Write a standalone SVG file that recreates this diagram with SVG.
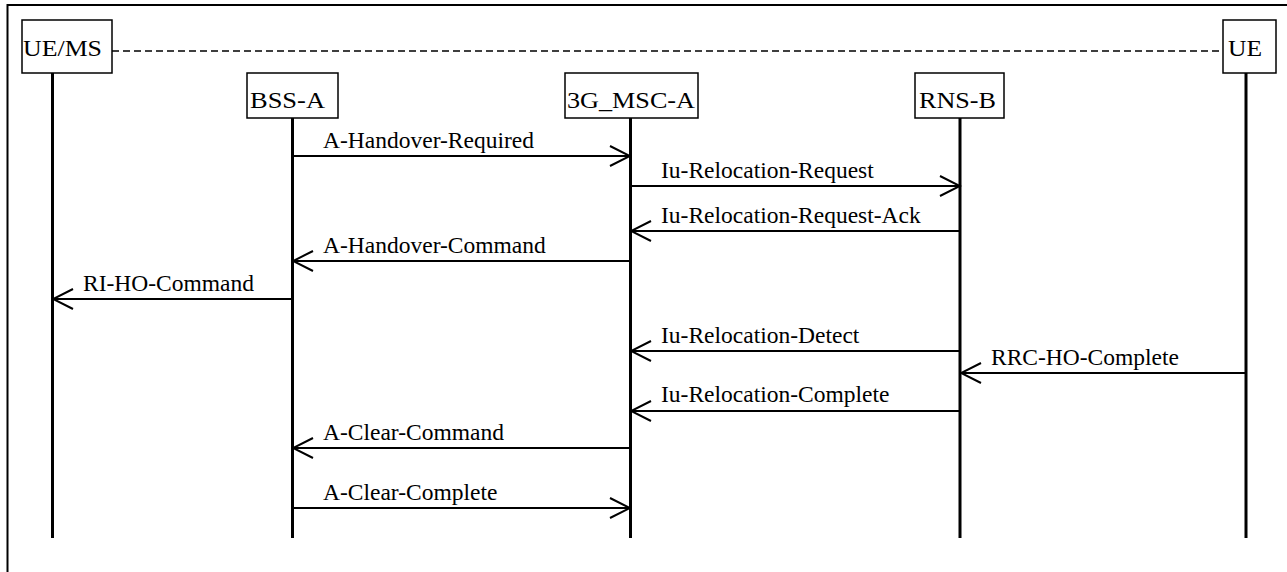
<svg xmlns="http://www.w3.org/2000/svg" width="1287" height="572" viewBox="0 0 1287 572">
<style>
.box{fill:#fff;stroke:#000;stroke-width:1.5}
.nl{font-family:"Liberation Serif","Times New Roman",serif;font-size:24px;fill:#000}
.ml{font-family:"Liberation Serif","Times New Roman",serif;font-size:23.5px;fill:#000}
.life{stroke:#000;stroke-width:3}
.msg{stroke:#000;stroke-width:2;fill:none;marker-end:url(#arr)}
</style>
<defs>
<marker id="arr" markerUnits="userSpaceOnUse" viewBox="-22 -12 24 24" refX="0" refY="0" markerWidth="24" markerHeight="24" orient="auto">
<path d="M-20,-10 L0,0 L-20,10" fill="none" stroke="#000" stroke-width="2"/>
</marker>
</defs>
<rect width="1287" height="572" fill="#fff"/>
<path d="M7.5,572 V5 H1287" fill="none" stroke="#000" stroke-width="2"/>
<line x1="112" y1="51" x2="1223" y2="51" stroke="#000" stroke-width="1.5" stroke-dasharray="7,4"/>
<g id="ue-ms">
<line class="life" x1="52.5" y1="73" x2="52.5" y2="538"/>
<rect class="box" x="22" y="20" width="90" height="53"/>
<text class="nl" x="23" y="56" textLength="79" lengthAdjust="spacingAndGlyphs">UE/MS</text>
</g>
<g id="bss-a">
<line class="life" x1="292.5" y1="118" x2="292.5" y2="538"/>
<rect class="box" x="247" y="73" width="91" height="45"/>
<text class="nl" x="250" y="108" textLength="75" lengthAdjust="spacingAndGlyphs">BSS-A</text>
</g>
<g id="msc-a">
<line class="life" x1="630.5" y1="118" x2="630.5" y2="538"/>
<rect class="box" x="565" y="73" width="133" height="45"/>
<text class="nl" x="567" y="108" textLength="128" lengthAdjust="spacingAndGlyphs">3G_MSC-A</text>
</g>
<g id="rns-b">
<line class="life" x1="960" y1="118" x2="960" y2="538"/>
<rect class="box" x="915" y="73" width="89" height="45"/>
<text class="nl" x="919" y="108" textLength="77" lengthAdjust="spacingAndGlyphs">RNS-B</text>
</g>
<g id="ue">
<line class="life" x1="1246" y1="73" x2="1246" y2="538"/>
<rect class="box" x="1223" y="20" width="53" height="53"/>
<text class="nl" x="1228" y="56" textLength="34" lengthAdjust="spacingAndGlyphs">UE</text>
</g>
<g id="connectors">
<line class="msg" x1="292.5" y1="156" x2="630" y2="156"/>
<text class="ml" x="323" y="148">A-Handover-Required</text>
<line class="msg" x1="630.5" y1="186" x2="960" y2="186"/>
<text class="ml" x="661" y="178">Iu-Relocation-Request</text>
<line class="msg" x1="960" y1="231" x2="631" y2="231"/>
<text class="ml" x="661" y="223">Iu-Relocation-Request-Ack</text>
<line class="msg" x1="630.5" y1="261" x2="293" y2="261"/>
<text class="ml" x="323" y="253">A-Handover-Command</text>
<line class="msg" x1="292.5" y1="299" x2="53" y2="299"/>
<text class="ml" x="83" y="291">RI-HO-Command</text>
<line class="msg" x1="960" y1="351" x2="631" y2="351"/>
<text class="ml" x="661" y="343">Iu-Relocation-Detect</text>
<line class="msg" x1="1246" y1="373" x2="961" y2="373"/>
<text class="ml" x="991" y="365">RRC-HO-Complete</text>
<line class="msg" x1="960" y1="411" x2="631" y2="411"/>
<text class="ml" x="661" y="402">Iu-Relocation-Complete</text>
<line class="msg" x1="630.5" y1="448" x2="293" y2="448"/>
<text class="ml" x="323" y="440">A-Clear-Command</text>
<line class="msg" x1="292.5" y1="508" x2="630" y2="508"/>
<text class="ml" x="323" y="500">A-Clear-Complete</text>
</g>
</svg>
